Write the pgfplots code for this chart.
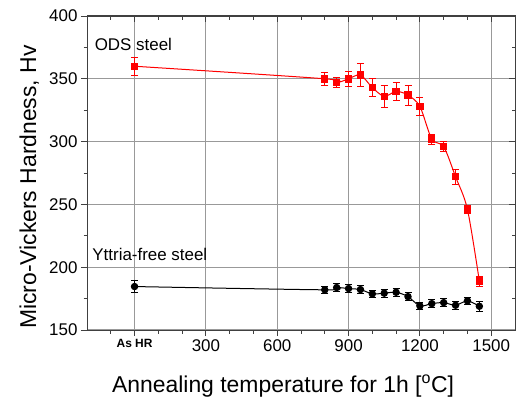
\documentclass[border=0pt]{standalone}
\usepackage{fontspec}
\setmainfont{Liberation Sans}
\usepackage{pgfplots}
\pgfplotsset{compat=1.18}

\begin{document}
\begin{tikzpicture}
\pgfplotsset{
  hvbase/.style={
    width=428bp, height=314bp, scale only axis,
    xmin=-200, xmax=1600, ymin=150, ymax=400,
    xtick={0,300,600,900,1200,1500},
    minor xtick={-100,100,200,400,500,700,800,1000,1100,1300,1400},
    ytick={150,200,250,300,350,400},
    minor y tick num=1,
    major tick length=6bp, minor tick length=3.5bp,
    axis line style={line width=1bp, black!75},
    every tick/.style={black!75, line width=0.8bp},
  },
}
\begin{axis}[hvbase,
  xtick pos=bottom, ytick pos=left, tick align=outside,
  xticklabels={{\fontsize{12}{14}\selectfont\bfseries As HR},300,600,900,1200,1500},
  /pgf/number format/assume math mode=true,
  ticklabel style={font=\fontsize{17}{19}\selectfont},
  grid=major,
  major grid style={gray!80, line width=1.1bp},
  xlabel={Annealing temperature for 1h [$^{\mathrm{o}}$C]},
  ylabel={Micro-Vickers Hardness, Hv},
  label style={font=\fontsize{23}{26}\selectfont},
  xlabel style={at={(axis description cs:0.458,-0.2)}, anchor=base},
  ylabel style={at={(axis description cs:-0.119,0.455)}, anchor=base},
  clip=false,
]
\addplot[red, line width=1bp, smooth, tension=0.5,
  mark=square*, mark size=3.2bp, mark options={solid},
  error bars/.cd, y dir=both, y explicit,
  error bar style={red, line width=0.8bp},
  error mark options={rotate=90, mark size=3.5bp, red, line width=0.8bp}]
coordinates {
  (0,360) +- (0,7)
  (800,350) +- (0,5)
  (850,347) +- (0,4)
  (900,350) +- (0,6)
  (950,353) +- (0,9)
  (1000,343) +- (0,7)
  (1050,336) +- (0,9)
  (1100,340) +- (0,7)
  (1150,337) +- (0,8)
  (1200,328) +- (0,7)
  (1250,302) +- (0,4)
  (1300,296) +- (0,4)
  (1350,272) +- (0,6)
  (1400,246) +- (0,3)
  (1450,189) +- (0,4)
};
\addplot[black, line width=1bp, smooth, tension=0.5,
  mark=*, mark size=3.2bp, mark options={solid},
  error bars/.cd, y dir=both, y explicit,
  error bar style={black, line width=0.8bp},
  error mark options={rotate=90, mark size=3.5bp, black, line width=0.8bp}]
coordinates {
  (0,184.6) +- (0,5)
  (800,182) +- (0,3)
  (850,183.8) +- (0,3)
  (900,183) +- (0,3)
  (950,182.2) +- (0,3)
  (1000,178.8) +- (0,3)
  (1050,179.3) +- (0,3)
  (1100,180) +- (0,3)
  (1150,176.6) +- (0,3)
  (1200,169.2) +- (0,3)
  (1250,171) +- (0,3)
  (1300,171.8) +- (0,3)
  (1350,169.7) +- (0,3)
  (1400,173.2) +- (0,3)
  (1450,168.9) +- (0,4)
};
\node[anchor=west, font=\fontsize{17}{20}\selectfont, inner sep=0pt] at (axis cs:-168,377) {ODS steel};
\node[anchor=west, font=\fontsize{17}{20}\selectfont, inner sep=0pt] at (axis cs:-178,210) {Yttria-free steel};
\end{axis}
\begin{axis}[hvbase,
  xtick pos=top, ytick pos=right, tick align=inside,
  xticklabels={}, yticklabels={},
]
\end{axis}
\path (current axis.south west) ++(-87bp,-70bp) coordinate (bbA);
\path (current axis.north east) ++(2bp,16bp) coordinate (bbB);
\pgfresetboundingbox
\path[use as bounding box] (bbA) rectangle (bbB);
\end{tikzpicture}
\end{document}
